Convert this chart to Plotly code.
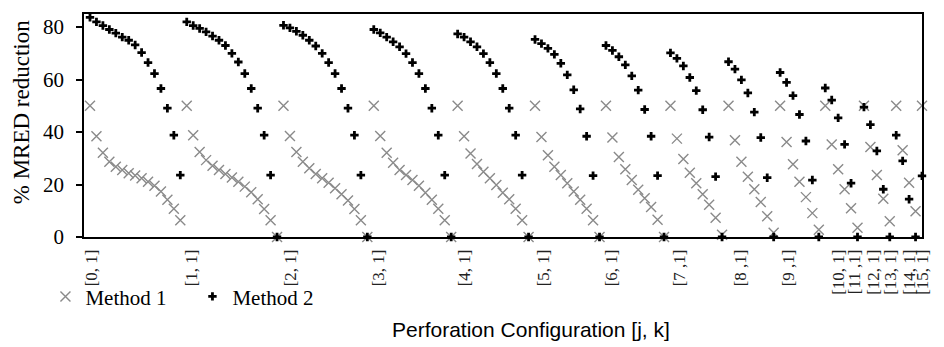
import plotly.graph_objects as go

# ---- data ----
tick_labels = ["[0, 1]", "[1, 1]", "[2, 1]", "[3, 1]", "[4, 1]", "[5, 1]", "[6, 1]",
               "[7 ,1]", "[8 ,1]", "[9 ,1]", "[10, 1]", "[11 ,1]", "[12, 1]",
               "[13, 1]", "[14, 1]", "[15, 1]"]
tick_positions = [0.2, 15.8, 31.1, 44.8, 58.1, 70.3, 80.8, 91.4, 100.8, 108.3,
                  116.0, 118.5, 121.5, 124.1, 127.0, 129.0]

method1_g0 = [50, 38.4, 32.1, 28.7, 26.8, 25.5, 24.3, 23.4, 22.4, 21.1, 19.5, 17.3, 14.2, 10.8, 6.4]
method1_g1 = [50, 38.8, 32.4, 29.3, 27.2, 25.5, 24.0, 22.7, 21.1, 19.2, 17.1, 14.4, 10.7, 6.4, 0]
method1_g2 = [50, 38.5, 32.4, 28.7, 26.2, 24.0, 22.4, 20.7, 18.6, 16.3, 13.9, 10.7, 6.4, 0]
method1_g3 = [50, 38.5, 32.1, 28.3, 25.5, 23.6, 21.7, 19.5, 16.9, 14.2, 10.8, 6.4, 0]
method1_g4 = [50, 38.4, 31.8, 27.8, 24.9, 22.4, 19.8, 16.9, 14.4, 10.8, 6.4, 0]
method1_g5 = [50, 38.1, 31.2, 26.8, 23.6, 20.5, 17.3, 14.2, 10.8, 6.4, 0]
method1_g6 = [50, 37.9, 30.5, 25.8, 21.7, 18.0, 14.8, 11.4, 6.6, 0]
method1_g7 = [50, 37.5, 29.7, 24.5, 20.5, 16.3, 12.3, 7.3, 0.9]
method1_g8 = [50, 36.9, 28.7, 23.0, 18.2, 13.3, 7.9, 1.6]
method1_g9 = [50, 36.2, 27.7, 21.1, 15.2, 9.1, 2.8]
method1_g10 = [50, 35.3, 25.8, 18.2, 11.0, 3.5]
method1_g11 = [50, 34.3, 23.6, 14.6, 6.0]
method1_g12 = [50, 33.1, 20.7, 9.8]
method1_g13 = [50]

method2_g0 = [83.7, 82.0, 80.6, 79.1, 77.7, 76.2, 75.0, 73.2, 70.3, 66.5, 62.3, 56.6, 49.1, 38.8, 23.6]
method2_g1 = [82.0, 80.6, 79.5, 78.2, 76.6, 75.0, 73.0, 70.0, 66.7, 62.3, 56.6, 49.1, 38.8, 23.6, 0]
method2_g2 = [80.7, 79.7, 78.4, 76.9, 75.0, 72.8, 70.0, 66.5, 62.3, 56.6, 49.1, 38.8, 23.6, 0]
method2_g3 = [79.1, 77.8, 76.2, 74.4, 72.5, 69.9, 66.5, 62.3, 56.6, 49.1, 38.8, 23.6, 0]
method2_g4 = [77.4, 76.2, 74.4, 72.5, 69.9, 66.5, 62.3, 56.6, 49.1, 38.8, 23.6, 0]
method2_g5 = [75.3, 73.7, 71.9, 69.6, 66.2, 61.8, 56.1, 48.8, 38.4, 23.4, 0]
method2_g6 = [73.0, 71.1, 68.7, 65.6, 61.4, 56.0, 48.6, 38.4, 23.4, 0]
method2_g7 = [70.2, 68.1, 65.2, 60.8, 55.8, 48.5, 38.1, 23.0, 0]
method2_g8 = [66.8, 64.0, 59.9, 54.9, 47.6, 37.9, 22.6, 0]
method2_g9 = [62.7, 58.9, 53.9, 46.7, 36.6, 21.7, 0]
method2_g10 = [56.8, 52.2, 45.4, 35.3, 20.5, 0]
method2_g11 = [49.5, 42.8, 32.8, 18.2, 0]
method2_g12 = [38.8, 29.0, 14.4, 0]
method2_g13 = [23.3]

method1 = (method1_g0 + method1_g1 + method1_g2 + method1_g3 + method1_g4 + method1_g5 +
           method1_g6 + method1_g7 + method1_g8 + method1_g9 + method1_g10 +
           method1_g11 + method1_g12 + method1_g13)
method2 = (method2_g0 + method2_g1 + method2_g2 + method2_g3 + method2_g4 + method2_g5 +
           method2_g6 + method2_g7 + method2_g8 + method2_g9 + method2_g10 +
           method2_g11 + method2_g12 + method2_g13)
x_index = list(range(len(method1)))

SERIF = "Liberation Serif, Times New Roman, serif"
SANS = "Liberation Sans, Arial, sans-serif"
GRAY = "#8a8a8a"

fig = go.Figure()
fig.add_trace(go.Scatter(
    x=x_index, y=method1, mode="markers", name="Method 1",
    marker=dict(symbol="x-thin", size=10, color=GRAY,
                line=dict(color=GRAY, width=1.4)),
    cliponaxis=False))
fig.add_trace(go.Scatter(
    x=x_index, y=method2, mode="markers", name="Method 2",
    marker=dict(symbol="cross", size=7, color="black", line=dict(width=0)),
    cliponaxis=False))

fig.update_layout(
    width=944, height=347,
    margin=dict(l=84, r=19, t=13, b=110),
    paper_bgcolor="white", plot_bgcolor="white",
    showlegend=True,
    legend=dict(orientation="h", x=-0.046, xanchor="left", y=-0.268, yanchor="middle",
                entrywidth=102, entrywidthmode="pixels",
                font=dict(family=SERIF, size=21, color="black"),
                bgcolor="rgba(0,0,0,0)", borderwidth=0),
    xaxis=dict(range=[-0.93, 129], showgrid=False, zeroline=False,
               showline=True, mirror=True, linecolor="black", linewidth=1.5,
               ticks="", tickmode="array", tickvals=tick_positions, ticktext=tick_labels,
               tickangle=-90, tickfont=dict(family=SERIF, size=17, color="#222"),
               ticklabelstandoff=4),
    yaxis=dict(range=[0, 85], showgrid=False, zeroline=False,
               showline=True, mirror=True, linecolor="black", linewidth=1.5,
               ticks="outside", ticklen=6, tickwidth=1.5, tickcolor="black",
               tickvals=[0, 20, 40, 60, 80],
               tickfont=dict(family=SERIF, size=21, color="black"),
               ticklabelstandoff=8),
    annotations=[
        dict(text="Perforation Configuration [j, k]", xref="paper", yref="paper",
             x=0.533, y=-0.415, xanchor="center", yanchor="middle", showarrow=False,
             font=dict(family=SANS, size=21, color="black")),
        dict(text="% MRED reduction", xref="paper", yref="paper",
             x=-0.075, y=0.56, xanchor="center", yanchor="middle", showarrow=False,
             textangle=-90, font=dict(family=SERIF, size=23, color="black")),
    ],
)

fig.write_html("out.html")
